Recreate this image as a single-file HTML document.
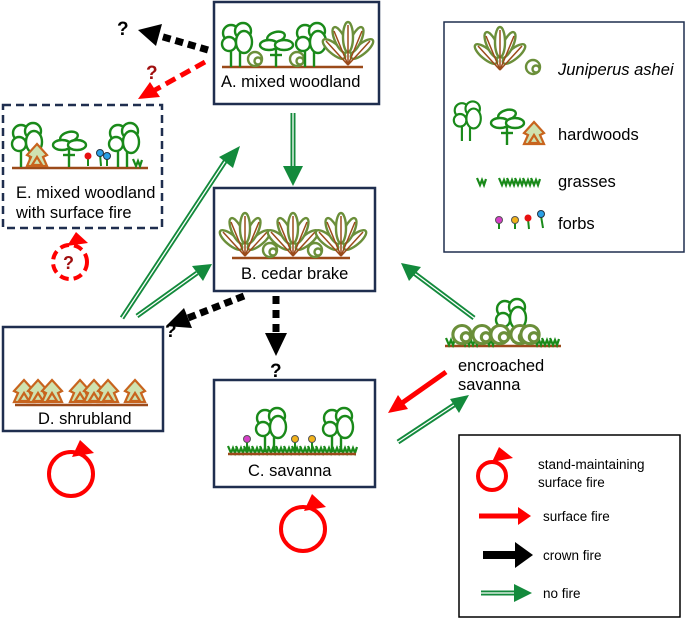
<!DOCTYPE html>
<html><head><meta charset="utf-8"><style>
html,body{margin:0;padding:0;background:#fff}
svg{display:block}
text{font-family:"Liberation Sans",sans-serif;font-size:16.5px;fill:#000}
</style></head><body>
<svg width="685" height="620" viewBox="0 0 685 620" xmlns="http://www.w3.org/2000/svg">
<defs>
<g id="oak" fill="#fff" stroke="#1a8a1a" stroke-width="2.4">
<line x1="0" y1="0" x2="0" y2="-20"/>
<line x1="-9" y1="0" x2="-9" y2="-20"/>
<ellipse cx="-9" cy="-34" rx="8" ry="8"/>
<ellipse cx="3" cy="-36" rx="8" ry="8"/>
<ellipse cx="-11" cy="-23" rx="7" ry="7"/>
<ellipse cx="4" cy="-25" rx="8" ry="11"/>
</g>
<g id="umb" fill="#fff" stroke="#1a8a1a" stroke-width="2.4">
<line x1="0" y1="0" x2="0" y2="-20"/>
<ellipse cx="0" cy="-30" rx="9" ry="5" transform="rotate(-15 0 -30)"/>
<ellipse cx="-7" cy="-22" rx="9" ry="5"/>
<ellipse cx="8" cy="-22" rx="9" ry="5"/>
<line x1="-6" y1="-12" x2="6" y2="-12"/>
</g>
<g id="jun" fill="#fff" stroke="#6b8f3a" stroke-width="2.4">
<ellipse cx="-14" cy="-16" rx="5" ry="14" transform="rotate(-50 -14 -16)"/>
<ellipse cx="14" cy="-16" rx="5" ry="14" transform="rotate(50 14 -16)"/>
<ellipse cx="-8" cy="-25" rx="5" ry="14" transform="rotate(-25 -8 -25)"/>
<ellipse cx="8" cy="-25" rx="5" ry="14" transform="rotate(25 8 -25)"/>
<ellipse cx="0" cy="-28" rx="5" ry="15"/>
<g stroke="#9b4a1a" stroke-width="1.5">
<line x1="0" y1="0" x2="0" y2="-40"/><line x1="0" y1="0" x2="-14" y2="-34"/><line x1="0" y1="0" x2="14" y2="-34"/><line x1="0" y1="0" x2="-22" y2="-24"/><line x1="0" y1="0" x2="22" y2="-24"/>
</g></g>
<g id="sj" fill="#fff" stroke="#6b8f3a" stroke-width="2.4">
<circle cx="0" cy="-8" r="7"/><circle cx="3" cy="-6" r="3.5"/>
</g>
<g id="shr" fill="#cfe2b0" stroke="#c8641e" stroke-width="2.2">
<path d="M0,-23 L10,-12 L6,-10 L10,-1 L-10,-1 L-6,-10 L-10,-12Z"/><path d="M0,-10 L5,-2 L-5,-2Z"/>
</g>
<g id="gr" fill="none" stroke="#1a8a1a" stroke-width="2.2">
<path d="M-4,-7 L-1,0 L1,-5 L3,0 L5,-6"/>
</g>
</defs>

<!-- Boxes -->
<g fill="none" stroke="#1f2e4f" stroke-width="2.5">
<rect x="214" y="2" width="165" height="102"/>
<rect x="214" y="188" width="161" height="103"/>
<rect x="214" y="380" width="161" height="107"/>
<rect x="3" y="327" width="160" height="104"/>
<rect x="3" y="105" width="159" height="123" stroke-dasharray="8,5"/>
<rect x="444" y="22" width="240" height="230" stroke-width="1.5"/>
<rect x="459" y="435" width="221" height="182" stroke="#000" stroke-width="1.5"/>
</g>

<!-- A content -->
<line x1="222" y1="67" x2="363" y2="67" stroke="#9b4a1a" stroke-width="2.5"/>
<use href="#oak" x="240" y="67"/><use href="#sj" x="255" y="67"/><use href="#umb" x="276" y="67"/><use href="#sj" x="297" y="67"/><use href="#oak" x="314" y="67"/><use href="#jun" x="348" y="65"/>
<text x="221" y="87">A. mixed woodland</text>

<!-- B content -->
<line x1="232" y1="258" x2="350" y2="258" stroke="#9b4a1a" stroke-width="2.5"/>
<use href="#jun" x="245" y="256"/><use href="#sj" x="270" y="258"/><use href="#jun" x="293" y="256"/><use href="#sj" x="315" y="258"/><use href="#jun" x="341" y="256"/>
<text x="241" y="279">B. cedar brake</text>

<!-- C content -->
<g><use href="#gr" x="232" y="453"/><use href="#gr" x="240" y="453"/><use href="#gr" x="248" y="453"/><use href="#gr" x="256" y="453"/><use href="#gr" x="264" y="453"/><use href="#gr" x="272" y="453"/><use href="#gr" x="280" y="453"/><use href="#gr" x="288" y="453"/><use href="#gr" x="296" y="453"/><use href="#gr" x="304" y="453"/><use href="#gr" x="312" y="453"/><use href="#gr" x="320" y="453"/><use href="#gr" x="328" y="453"/><use href="#gr" x="336" y="453"/><use href="#gr" x="344" y="453"/><use href="#gr" x="352" y="453"/></g>
<line x1="228" y1="454" x2="356" y2="454" stroke="#9b4a1a" stroke-width="2.5"/>
<use href="#oak" x="274" y="452"/><use href="#oak" x="341" y="452"/>
<g stroke="#1a8a1a" stroke-width="2"><line x1="247" y1="450" x2="247" y2="441"/><line x1="295" y1="450" x2="295" y2="441"/><line x1="312" y1="450" x2="312" y2="441"/></g>
<circle cx="247" cy="439" r="3.5" fill="#d63fc8" stroke="#555"/><circle cx="295" cy="439" r="3.5" fill="#f2b21a" stroke="#555"/><circle cx="312" cy="439" r="3.5" fill="#f2b21a" stroke="#555"/>
<text x="248" y="476">C. savanna</text>

<!-- D content -->
<line x1="15" y1="405" x2="148" y2="405" stroke="#9b4a1a" stroke-width="2.5"/>
<use href="#shr" x="24" y="403"/><use href="#shr" x="38" y="403"/><use href="#shr" x="52" y="403"/><use href="#shr" x="80" y="403"/><use href="#shr" x="94" y="403"/><use href="#shr" x="108" y="403"/><use href="#shr" x="135" y="403"/>
<text x="38" y="424">D. shrubland</text>

<!-- E content -->
<line x1="12" y1="168" x2="148" y2="168" stroke="#9b4a1a" stroke-width="2.5"/>
<use href="#oak" x="30" y="167"/><use href="#shr" x="37" y="167"/><use href="#umb" x="69" y="167"/><use href="#oak" x="127" y="167"/><use href="#gr" x="137" y="166"/>
<g stroke="#1a8a1a" stroke-width="2"><line x1="88" y1="166" x2="88" y2="157"/><line x1="101" y1="166" x2="100" y2="154"/><line x1="107" y1="166" x2="107" y2="157"/></g>
<circle cx="88" cy="156" r="3.5" fill="#e81010"/><circle cx="100" cy="153" r="3.5" fill="#2aa0e6" stroke="#234"/><circle cx="107" cy="156" r="3.5" fill="#2aa0e6" stroke="#234"/>
<text x="16" y="198">E. mixed woodland</text>
<text x="16" y="218">with surface fire</text>

<!-- Encroached savanna -->
<line x1="445" y1="346" x2="561" y2="346" stroke="#9b4a1a" stroke-width="2.5"/>
<g><use href="#gr" x="450" y="345"/><use href="#gr" x="466" y="345"/><use href="#gr" x="474" y="345"/><use href="#gr" x="490" y="345"/><use href="#gr" x="538" y="345"/><use href="#gr" x="546" y="345"/><use href="#gr" x="554" y="345"/></g>
<g transform="translate(0,0)">
<g transform="translate(462,345) scale(1.3)"><use href="#sj"/></g>
<g transform="translate(482,345) scale(1.3)"><use href="#sj"/></g>
<use href="#oak" x="514" y="343"/>
<g transform="translate(500,345) scale(1.3)"><use href="#sj"/></g>
<g transform="translate(520,345) scale(1.3)"><use href="#sj"/></g>
<g transform="translate(530,345) scale(1.3)"><use href="#sj"/></g>
</g>
<text x="458" y="371">encroached</text>
<text x="458" y="390">savanna</text>

<!-- Legend top -->
<use href="#jun" x="500" y="70"/><use href="#sj" x="533" y="75"/>
<text x="558" y="75" font-style="italic">Juniperus ashei</text>
<g transform="translate(470,141) scale(0.9)"><use href="#oak" x="0" y="0"/></g><use href="#umb" x="507" y="145"/><use href="#shr" x="534" y="145"/>
<text x="558" y="140">hardwoods</text>
<use href="#gr" x="481" y="185"/><use href="#gr" x="503" y="185"/><use href="#gr" x="511" y="185"/><use href="#gr" x="519" y="185"/><use href="#gr" x="527" y="185"/><use href="#gr" x="535" y="185"/>
<text x="558" y="187">grasses</text>
<g stroke="#1a8a1a" stroke-width="2"><line x1="499" y1="229" x2="499" y2="221"/><line x1="515" y1="229" x2="515" y2="221"/><line x1="529" y1="229" x2="528" y2="219"/><line x1="543" y1="228" x2="541" y2="216"/></g>
<circle cx="499" cy="220" r="3.5" fill="#d63fc8" stroke="#555"/><circle cx="515" cy="220" r="3.5" fill="#f2b21a" stroke="#555"/><circle cx="528" cy="218" r="3.5" fill="#e81010"/><circle cx="541" cy="214" r="3.5" fill="#2aa0e6" stroke="#234"/>
<text x="558" y="229">forbs</text>

<!-- Legend bottom -->
<circle cx="492" cy="476" r="14" fill="none" stroke="#f00" stroke-width="4"/>
<polygon points="499,447 492,462 513,458" fill="#f00"/>
<g style="font-size:13.5px">
<text x="538" y="469" style="font-size:13.5px">stand-maintaining</text>
<text x="538" y="487" style="font-size:13.5px">surface fire</text>
<text x="543" y="521" style="font-size:13.5px">surface fire</text>
<text x="543" y="560" style="font-size:13.5px">crown fire</text>
<text x="543" y="598" style="font-size:13.5px">no fire</text>
</g>
<line x1="479" y1="516" x2="520" y2="516" stroke="#f00" stroke-width="5"/><polygon points="518,507 531,516 518,525" fill="#f00"/>
<line x1="483" y1="555" x2="518" y2="555" stroke="#000" stroke-width="8"/><polygon points="515,542 533,555 515,568" fill="#000"/>
<line x1="481" y1="593" x2="520" y2="593" stroke="#138a3c" stroke-width="5"/><line x1="481" y1="593" x2="520" y2="593" stroke="#fff" stroke-width="1.3"/><polygon points="514,584 532,593 514,602" fill="#138a3c"/>

<!-- Fire circles -->
<circle cx="71" cy="474" r="22" fill="none" stroke="#f00" stroke-width="4"/><polygon points="80,440 72,457 94,453" fill="#f00"/>
<circle cx="303" cy="529" r="22" fill="none" stroke="#f00" stroke-width="4"/><polygon points="312,494 304,511 326,507" fill="#f00"/>
<circle cx="70" cy="262" r="17" fill="none" stroke="#f00" stroke-width="4" stroke-dasharray="9,5"/><polygon points="76,232 67,246 88,243" fill="#f00"/>
<text x="63" y="269" font-size="18" font-weight="bold" style="fill:#a01010;font-size:18px">?</text>

<!-- Black dashed arrows -->
<line x1="208" y1="50" x2="160" y2="36" stroke="#000" stroke-width="7" stroke-dasharray="8,5"/>
<polygon points="138,30 162,24 156,46" fill="#000"/>
<text x="117" y="35" style="font-size:19px;font-weight:bold">?</text>
<line x1="244" y1="296" x2="188" y2="318" stroke="#000" stroke-width="7" stroke-dasharray="8,5"/>
<polygon points="166,326 184,308 192,328" fill="#000"/>
<text x="165" y="337" style="font-size:19px;font-weight:bold">?</text>
<line x1="276" y1="296" x2="276" y2="337" stroke="#000" stroke-width="7" stroke-dasharray="8,6"/>
<polygon points="265,333 287,333 276,356" fill="#000"/>
<text x="270" y="377" style="font-size:19px;font-weight:bold">?</text>

<!-- Red dashed -->
<line x1="205" y1="62" x2="155" y2="90" stroke="#f00" stroke-width="5" stroke-dasharray="11,6"/>
<polygon points="138,99 150,82 160,97" fill="#f00"/>
<text x="146" y="79" style="font-size:19px;font-weight:bold;fill:#a01010">?</text>

<!-- Red solid -->
<line x1="446" y1="372" x2="402" y2="403" stroke="#f00" stroke-width="5"/><polygon points="388,413 398,395 408,409" fill="#f00"/>

<!-- Green double arrows -->
<g stroke="#138a3c" stroke-width="5" fill="none">
<path d="M122,318 L226,160"/><path d="M137,316 L197,273"/><path d="M293,113 L293,170"/><path d="M474,318 L414,273"/><path d="M398,442 L454,405"/>
</g>
<g stroke="#fff" stroke-width="1.3" fill="none">
<path d="M122,318 L226,160"/><path d="M137,316 L197,273"/><path d="M293,113 L293,170"/><path d="M474,318 L414,273"/><path d="M398,442 L454,405"/>
</g>
<g fill="#138a3c">
<polygon points="240,146 233,168 219,157"/>
<polygon points="212,264 203,281 192,266"/>
<polygon points="293,186 283,166 303,166"/>
<polygon points="401,263 421,267 409,281"/>
<polygon points="469,395 459,413 450,399"/>
</g>
</svg>
</body></html>
